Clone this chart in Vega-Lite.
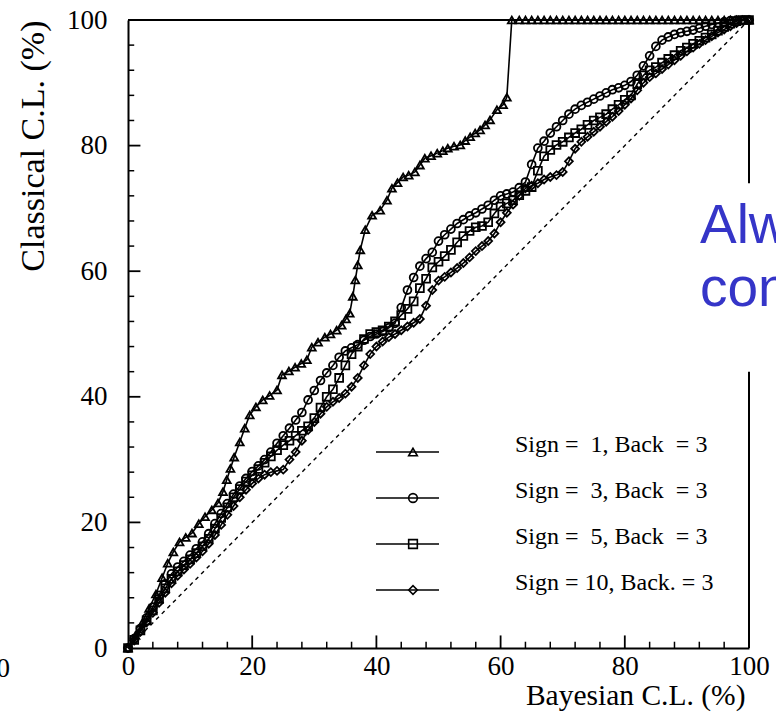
{
  "$schema": "https://vega.github.io/schema/vega-lite/v6.json",
  "width": 621,
  "height": 628,
  "autosize": {"type": "none"},
  "padding": {"left": 128, "top": 20, "right": 27, "bottom": 64},
  "background": "white",
  "config": {"view": {"stroke": null}},
  "datasets": {
    "curves": [
      {"sign":1,"bcl":0,"ccl":0},{"sign":1,"bcl":1.2,"ccl":2},{"sign":1,"bcl":2.3,"ccl":4},{"sign":1,"bcl":3.4,"ccl":6.3},{"sign":1,"bcl":4.5,"ccl":8.6},{"sign":1,"bcl":5.5,"ccl":11.2},{"sign":1,"bcl":6.4,"ccl":13.5},{"sign":1,"bcl":7.3,"ccl":15.3},{"sign":1,"bcl":8.3,"ccl":16.9},{"sign":1,"bcl":9.3,"ccl":17.6},{"sign":1,"bcl":10.3,"ccl":18.3},{"sign":1,"bcl":11.4,"ccl":19.8},{"sign":1,"bcl":12.4,"ccl":20.9},{"sign":1,"bcl":13.5,"ccl":22},{"sign":1,"bcl":14.5,"ccl":23.1},{"sign":1,"bcl":15.3,"ccl":24.9},{"sign":1,"bcl":15.9,"ccl":26.8},{"sign":1,"bcl":16.5,"ccl":28.6},{"sign":1,"bcl":17.1,"ccl":30.4},{"sign":1,"bcl":18,"ccl":32.8},{"sign":1,"bcl":18.8,"ccl":35},{"sign":1,"bcl":19.6,"ccl":37.1},{"sign":1,"bcl":20.6,"ccl":38.4},{"sign":1,"bcl":21.7,"ccl":39.5},{"sign":1,"bcl":22.8,"ccl":40.2},{"sign":1,"bcl":24,"ccl":41.1},{"sign":1,"bcl":24.8,"ccl":43.5},{"sign":1,"bcl":25.9,"ccl":44.1},{"sign":1,"bcl":26.9,"ccl":44.7},{"sign":1,"bcl":27.9,"ccl":45.3},{"sign":1,"bcl":28.8,"ccl":45.9},{"sign":1,"bcl":29.6,"ccl":47.9},{"sign":1,"bcl":30.6,"ccl":48.7},{"sign":1,"bcl":31.7,"ccl":49.5},{"sign":1,"bcl":32.6,"ccl":50},{"sign":1,"bcl":33.6,"ccl":50.6},{"sign":1,"bcl":34.4,"ccl":51.4},{"sign":1,"bcl":35.1,"ccl":52.4},{"sign":1,"bcl":35.7,"ccl":53.3},{"sign":1,"bcl":36.2,"ccl":56},{"sign":1,"bcl":36.6,"ccl":58.6},{"sign":1,"bcl":37,"ccl":61},{"sign":1,"bcl":37.4,"ccl":63.4},{"sign":1,"bcl":38.2,"ccl":66.6},{"sign":1,"bcl":39.3,"ccl":68.9},{"sign":1,"bcl":40.6,"ccl":69.7},{"sign":1,"bcl":41.7,"ccl":71.3},{"sign":1,"bcl":42.5,"ccl":73.2},{"sign":1,"bcl":43.4,"ccl":74.1},{"sign":1,"bcl":44.3,"ccl":75},{"sign":1,"bcl":45.2,"ccl":75.3},{"sign":1,"bcl":46.2,"ccl":75.8},{"sign":1,"bcl":47,"ccl":76.9},{"sign":1,"bcl":47.8,"ccl":78},{"sign":1,"bcl":48.8,"ccl":78.4},{"sign":1,"bcl":49.8,"ccl":78.8},{"sign":1,"bcl":50.7,"ccl":79.2},{"sign":1,"bcl":51.5,"ccl":79.6},{"sign":1,"bcl":52.5,"ccl":79.9},{"sign":1,"bcl":53.5,"ccl":80.1},{"sign":1,"bcl":54.3,"ccl":80.8},{"sign":1,"bcl":55.1,"ccl":81.4},{"sign":1,"bcl":55.9,"ccl":82},{"sign":1,"bcl":56.7,"ccl":82.5},{"sign":1,"bcl":57.5,"ccl":83.3},{"sign":1,"bcl":58.3,"ccl":84.1},{"sign":1,"bcl":59.4,"ccl":85.7},{"sign":1,"bcl":60.4,"ccl":86.5},{"sign":1,"bcl":61,"ccl":87.7},{"sign":1,"bcl":61.8,"ccl":100},{"sign":1,"bcl":63,"ccl":100},{"sign":1,"bcl":64,"ccl":100},{"sign":1,"bcl":65,"ccl":100},{"sign":1,"bcl":66,"ccl":100},{"sign":1,"bcl":67,"ccl":100},{"sign":1,"bcl":68,"ccl":100},{"sign":1,"bcl":69,"ccl":100},{"sign":1,"bcl":70,"ccl":100},{"sign":1,"bcl":71,"ccl":100},{"sign":1,"bcl":72,"ccl":100},{"sign":1,"bcl":73,"ccl":100},{"sign":1,"bcl":74,"ccl":100},{"sign":1,"bcl":75,"ccl":100},{"sign":1,"bcl":76,"ccl":100},{"sign":1,"bcl":77,"ccl":100},{"sign":1,"bcl":78,"ccl":100},{"sign":1,"bcl":79,"ccl":100},{"sign":1,"bcl":80,"ccl":100},{"sign":1,"bcl":81,"ccl":100},{"sign":1,"bcl":82,"ccl":100},{"sign":1,"bcl":83,"ccl":100},{"sign":1,"bcl":84,"ccl":100},{"sign":1,"bcl":85,"ccl":100},{"sign":1,"bcl":86,"ccl":100},{"sign":1,"bcl":87,"ccl":100},{"sign":1,"bcl":88,"ccl":100},{"sign":1,"bcl":89,"ccl":100},{"sign":1,"bcl":90,"ccl":100},{"sign":1,"bcl":91,"ccl":100},{"sign":1,"bcl":92,"ccl":100},{"sign":1,"bcl":93,"ccl":100},{"sign":1,"bcl":94,"ccl":100},{"sign":1,"bcl":95,"ccl":100},{"sign":1,"bcl":96,"ccl":100},{"sign":1,"bcl":97,"ccl":100},{"sign":1,"bcl":98,"ccl":100},{"sign":1,"bcl":99,"ccl":100},{"sign":1,"bcl":100,"ccl":100},
      {"sign":3,"bcl":0,"ccl":0},{"sign":3,"bcl":1,"ccl":1.5},{"sign":3,"bcl":2,"ccl":3.1},{"sign":3,"bcl":3,"ccl":4.8},{"sign":3,"bcl":4,"ccl":6.5},{"sign":3,"bcl":5,"ccl":8.4},{"sign":3,"bcl":6,"ccl":10.2},{"sign":3,"bcl":7,"ccl":11.8},{"sign":3,"bcl":8,"ccl":12.9},{"sign":3,"bcl":9,"ccl":13.8},{"sign":3,"bcl":10,"ccl":14.8},{"sign":3,"bcl":11,"ccl":15.8},{"sign":3,"bcl":12,"ccl":16.9},{"sign":3,"bcl":13,"ccl":18.2},{"sign":3,"bcl":14,"ccl":19.8},{"sign":3,"bcl":15,"ccl":21.4},{"sign":3,"bcl":16,"ccl":23},{"sign":3,"bcl":17,"ccl":24.5},{"sign":3,"bcl":18,"ccl":25.8},{"sign":3,"bcl":19,"ccl":27},{"sign":3,"bcl":20,"ccl":28.1},{"sign":3,"bcl":21,"ccl":29},{"sign":3,"bcl":22,"ccl":30},{"sign":3,"bcl":23,"ccl":31.2},{"sign":3,"bcl":24,"ccl":32.6},{"sign":3,"bcl":25,"ccl":33.8},{"sign":3,"bcl":26,"ccl":35},{"sign":3,"bcl":27,"ccl":36.3},{"sign":3,"bcl":28,"ccl":37.5},{"sign":3,"bcl":29,"ccl":39.5},{"sign":3,"bcl":30,"ccl":41},{"sign":3,"bcl":31,"ccl":42.6},{"sign":3,"bcl":32,"ccl":43.8},{"sign":3,"bcl":33,"ccl":45},{"sign":3,"bcl":34,"ccl":46.3},{"sign":3,"bcl":35,"ccl":47.3},{"sign":3,"bcl":36,"ccl":47.8},{"sign":3,"bcl":37,"ccl":48.3},{"sign":3,"bcl":38,"ccl":49},{"sign":3,"bcl":39,"ccl":49.6},{"sign":3,"bcl":40,"ccl":50},{"sign":3,"bcl":41,"ccl":50.4},{"sign":3,"bcl":42,"ccl":51},{"sign":3,"bcl":43,"ccl":51.7},{"sign":3,"bcl":44,"ccl":54.2},{"sign":3,"bcl":45,"ccl":57},{"sign":3,"bcl":46,"ccl":59},{"sign":3,"bcl":47,"ccl":60.8},{"sign":3,"bcl":48,"ccl":62},{"sign":3,"bcl":49,"ccl":63},{"sign":3,"bcl":50,"ccl":64.8},{"sign":3,"bcl":51,"ccl":65.8},{"sign":3,"bcl":52,"ccl":66.7},{"sign":3,"bcl":53,"ccl":67.6},{"sign":3,"bcl":54,"ccl":68.2},{"sign":3,"bcl":55,"ccl":68.8},{"sign":3,"bcl":56,"ccl":69.3},{"sign":3,"bcl":57,"ccl":69.9},{"sign":3,"bcl":58,"ccl":70.5},{"sign":3,"bcl":59,"ccl":71.3},{"sign":3,"bcl":60,"ccl":72},{"sign":3,"bcl":61,"ccl":72.3},{"sign":3,"bcl":62,"ccl":72.6},{"sign":3,"bcl":63,"ccl":73.3},{"sign":3,"bcl":64,"ccl":74.2},{"sign":3,"bcl":65,"ccl":77},{"sign":3,"bcl":66,"ccl":79.6},{"sign":3,"bcl":67,"ccl":80.7},{"sign":3,"bcl":68,"ccl":82},{"sign":3,"bcl":69,"ccl":83},{"sign":3,"bcl":70,"ccl":84},{"sign":3,"bcl":71,"ccl":85},{"sign":3,"bcl":72,"ccl":85.8},{"sign":3,"bcl":73,"ccl":86.4},{"sign":3,"bcl":74,"ccl":86.9},{"sign":3,"bcl":75,"ccl":87.4},{"sign":3,"bcl":76,"ccl":87.9},{"sign":3,"bcl":77,"ccl":88.4},{"sign":3,"bcl":78,"ccl":88.9},{"sign":3,"bcl":79,"ccl":89.2},{"sign":3,"bcl":80,"ccl":89.6},{"sign":3,"bcl":81,"ccl":90.2},{"sign":3,"bcl":82,"ccl":91.2},{"sign":3,"bcl":83,"ccl":92.7},{"sign":3,"bcl":84,"ccl":94.3},{"sign":3,"bcl":85,"ccl":95.8},{"sign":3,"bcl":86,"ccl":96.8},{"sign":3,"bcl":87,"ccl":97.3},{"sign":3,"bcl":88,"ccl":97.7},{"sign":3,"bcl":89,"ccl":98},{"sign":3,"bcl":90,"ccl":98.2},{"sign":3,"bcl":91,"ccl":98.4},{"sign":3,"bcl":92,"ccl":98.7},{"sign":3,"bcl":93,"ccl":99},{"sign":3,"bcl":94,"ccl":99.3},{"sign":3,"bcl":95,"ccl":99.5},{"sign":3,"bcl":96,"ccl":99.7},{"sign":3,"bcl":97,"ccl":99.9},{"sign":3,"bcl":98,"ccl":100},{"sign":3,"bcl":99,"ccl":100},{"sign":3,"bcl":100,"ccl":100},
      {"sign":5,"bcl":0,"ccl":0},{"sign":5,"bcl":1,"ccl":1.3},{"sign":5,"bcl":2,"ccl":2.8},{"sign":5,"bcl":3,"ccl":4.4},{"sign":5,"bcl":4,"ccl":6},{"sign":5,"bcl":5,"ccl":7.8},{"sign":5,"bcl":6,"ccl":9.5},{"sign":5,"bcl":7,"ccl":11},{"sign":5,"bcl":8,"ccl":12.2},{"sign":5,"bcl":9,"ccl":13.2},{"sign":5,"bcl":10,"ccl":14.1},{"sign":5,"bcl":11,"ccl":15.1},{"sign":5,"bcl":12,"ccl":16.2},{"sign":5,"bcl":13,"ccl":17.4},{"sign":5,"bcl":14,"ccl":19},{"sign":5,"bcl":15,"ccl":20.7},{"sign":5,"bcl":16,"ccl":22.4},{"sign":5,"bcl":17,"ccl":24},{"sign":5,"bcl":18,"ccl":25.3},{"sign":5,"bcl":19,"ccl":26.5},{"sign":5,"bcl":20,"ccl":27.5},{"sign":5,"bcl":21,"ccl":28.5},{"sign":5,"bcl":22,"ccl":29.5},{"sign":5,"bcl":23,"ccl":30.5},{"sign":5,"bcl":24,"ccl":31.5},{"sign":5,"bcl":25,"ccl":32.3},{"sign":5,"bcl":26,"ccl":33},{"sign":5,"bcl":27,"ccl":33.8},{"sign":5,"bcl":28,"ccl":34.6},{"sign":5,"bcl":29,"ccl":35.3},{"sign":5,"bcl":30,"ccl":36.6},{"sign":5,"bcl":31,"ccl":38.3},{"sign":5,"bcl":32,"ccl":40},{"sign":5,"bcl":33,"ccl":41.2},{"sign":5,"bcl":34,"ccl":43},{"sign":5,"bcl":35,"ccl":45},{"sign":5,"bcl":36,"ccl":46.8},{"sign":5,"bcl":37,"ccl":48},{"sign":5,"bcl":38,"ccl":49.2},{"sign":5,"bcl":39,"ccl":50},{"sign":5,"bcl":40,"ccl":50.3},{"sign":5,"bcl":41,"ccl":50.6},{"sign":5,"bcl":42,"ccl":51.2},{"sign":5,"bcl":43,"ccl":52},{"sign":5,"bcl":44,"ccl":53},{"sign":5,"bcl":45,"ccl":54},{"sign":5,"bcl":46,"ccl":55.2},{"sign":5,"bcl":47,"ccl":57.3},{"sign":5,"bcl":48,"ccl":58.8},{"sign":5,"bcl":49,"ccl":60.6},{"sign":5,"bcl":50,"ccl":61.5},{"sign":5,"bcl":51,"ccl":62.4},{"sign":5,"bcl":52,"ccl":63.4},{"sign":5,"bcl":53,"ccl":64.6},{"sign":5,"bcl":54,"ccl":65.6},{"sign":5,"bcl":55,"ccl":66.4},{"sign":5,"bcl":56,"ccl":67},{"sign":5,"bcl":57,"ccl":67.2},{"sign":5,"bcl":58,"ccl":67.8},{"sign":5,"bcl":59,"ccl":69.2},{"sign":5,"bcl":60,"ccl":70.3},{"sign":5,"bcl":61,"ccl":70.8},{"sign":5,"bcl":62,"ccl":71.3},{"sign":5,"bcl":63,"ccl":72.1},{"sign":5,"bcl":64,"ccl":72.8},{"sign":5,"bcl":65,"ccl":73.4},{"sign":5,"bcl":66,"ccl":76},{"sign":5,"bcl":67,"ccl":78.3},{"sign":5,"bcl":68,"ccl":79.3},{"sign":5,"bcl":69,"ccl":80.1},{"sign":5,"bcl":70,"ccl":80.6},{"sign":5,"bcl":71,"ccl":81.3},{"sign":5,"bcl":72,"ccl":82},{"sign":5,"bcl":73,"ccl":82.6},{"sign":5,"bcl":74,"ccl":83.3},{"sign":5,"bcl":75,"ccl":84},{"sign":5,"bcl":76,"ccl":84.5},{"sign":5,"bcl":77,"ccl":85},{"sign":5,"bcl":78,"ccl":85.8},{"sign":5,"bcl":79,"ccl":86.5},{"sign":5,"bcl":80,"ccl":87.3},{"sign":5,"bcl":81,"ccl":88},{"sign":5,"bcl":82,"ccl":89.8},{"sign":5,"bcl":83,"ccl":91.2},{"sign":5,"bcl":84,"ccl":92},{"sign":5,"bcl":85,"ccl":92.5},{"sign":5,"bcl":86,"ccl":93.2},{"sign":5,"bcl":87,"ccl":93.8},{"sign":5,"bcl":88,"ccl":94.4},{"sign":5,"bcl":89,"ccl":95.1},{"sign":5,"bcl":90,"ccl":95.6},{"sign":5,"bcl":91,"ccl":96.2},{"sign":5,"bcl":92,"ccl":96.7},{"sign":5,"bcl":93,"ccl":97.2},{"sign":5,"bcl":94,"ccl":97.7},{"sign":5,"bcl":95,"ccl":98.3},{"sign":5,"bcl":96,"ccl":98.9},{"sign":5,"bcl":97,"ccl":99.4},{"sign":5,"bcl":98,"ccl":99.8},{"sign":5,"bcl":99,"ccl":100},{"sign":5,"bcl":100,"ccl":100},
      {"sign":10,"bcl":0,"ccl":0},{"sign":10,"bcl":1,"ccl":1.2},{"sign":10,"bcl":2,"ccl":2.6},{"sign":10,"bcl":3,"ccl":4.1},{"sign":10,"bcl":4,"ccl":5.6},{"sign":10,"bcl":5,"ccl":7.2},{"sign":10,"bcl":6,"ccl":8.8},{"sign":10,"bcl":7,"ccl":10.3},{"sign":10,"bcl":8,"ccl":11.5},{"sign":10,"bcl":9,"ccl":12.5},{"sign":10,"bcl":10,"ccl":13.4},{"sign":10,"bcl":11,"ccl":14.4},{"sign":10,"bcl":12,"ccl":15.4},{"sign":10,"bcl":13,"ccl":16.6},{"sign":10,"bcl":14,"ccl":18},{"sign":10,"bcl":15,"ccl":19.6},{"sign":10,"bcl":16,"ccl":21.2},{"sign":10,"bcl":17,"ccl":22.6},{"sign":10,"bcl":18,"ccl":24},{"sign":10,"bcl":19,"ccl":25.2},{"sign":10,"bcl":20,"ccl":26.2},{"sign":10,"bcl":21,"ccl":27},{"sign":10,"bcl":22,"ccl":27.6},{"sign":10,"bcl":23,"ccl":28},{"sign":10,"bcl":24,"ccl":28.2},{"sign":10,"bcl":25,"ccl":28.4},{"sign":10,"bcl":26,"ccl":30},{"sign":10,"bcl":27,"ccl":31.2},{"sign":10,"bcl":28,"ccl":33},{"sign":10,"bcl":29,"ccl":34.7},{"sign":10,"bcl":30,"ccl":36},{"sign":10,"bcl":31,"ccl":37.3},{"sign":10,"bcl":32,"ccl":38.4},{"sign":10,"bcl":33,"ccl":39.2},{"sign":10,"bcl":34,"ccl":39.8},{"sign":10,"bcl":35,"ccl":40.5},{"sign":10,"bcl":36,"ccl":41.6},{"sign":10,"bcl":37,"ccl":43},{"sign":10,"bcl":38,"ccl":45},{"sign":10,"bcl":39,"ccl":46.8},{"sign":10,"bcl":40,"ccl":48},{"sign":10,"bcl":41,"ccl":48.8},{"sign":10,"bcl":42,"ccl":49.5},{"sign":10,"bcl":43,"ccl":50},{"sign":10,"bcl":44,"ccl":50.6},{"sign":10,"bcl":45,"ccl":51.2},{"sign":10,"bcl":46,"ccl":51.8},{"sign":10,"bcl":47,"ccl":52.4},{"sign":10,"bcl":48,"ccl":54.5},{"sign":10,"bcl":49,"ccl":57},{"sign":10,"bcl":50,"ccl":58.5},{"sign":10,"bcl":51,"ccl":59.1},{"sign":10,"bcl":52,"ccl":59.8},{"sign":10,"bcl":53,"ccl":60.5},{"sign":10,"bcl":54,"ccl":61.3},{"sign":10,"bcl":55,"ccl":62.2},{"sign":10,"bcl":56,"ccl":63.2},{"sign":10,"bcl":57,"ccl":64},{"sign":10,"bcl":58,"ccl":64.8},{"sign":10,"bcl":59,"ccl":66},{"sign":10,"bcl":60,"ccl":67.8},{"sign":10,"bcl":61,"ccl":69.3},{"sign":10,"bcl":62,"ccl":70.6},{"sign":10,"bcl":63,"ccl":72},{"sign":10,"bcl":64,"ccl":73.2},{"sign":10,"bcl":65,"ccl":73.6},{"sign":10,"bcl":66,"ccl":74},{"sign":10,"bcl":67,"ccl":74.6},{"sign":10,"bcl":68,"ccl":75},{"sign":10,"bcl":69,"ccl":75.3},{"sign":10,"bcl":70,"ccl":75.8},{"sign":10,"bcl":71,"ccl":77.5},{"sign":10,"bcl":72,"ccl":79.5},{"sign":10,"bcl":73,"ccl":80.6},{"sign":10,"bcl":74,"ccl":81.4},{"sign":10,"bcl":75,"ccl":82.2},{"sign":10,"bcl":76,"ccl":83},{"sign":10,"bcl":77,"ccl":83.8},{"sign":10,"bcl":78,"ccl":84.6},{"sign":10,"bcl":79,"ccl":85.5},{"sign":10,"bcl":80,"ccl":86.5},{"sign":10,"bcl":81,"ccl":87.5},{"sign":10,"bcl":82,"ccl":88.8},{"sign":10,"bcl":83,"ccl":90},{"sign":10,"bcl":84,"ccl":90.9},{"sign":10,"bcl":85,"ccl":91.5},{"sign":10,"bcl":86,"ccl":92.2},{"sign":10,"bcl":87,"ccl":92.9},{"sign":10,"bcl":88,"ccl":93.6},{"sign":10,"bcl":89,"ccl":94.3},{"sign":10,"bcl":90,"ccl":95},{"sign":10,"bcl":91,"ccl":95.6},{"sign":10,"bcl":92,"ccl":96.2},{"sign":10,"bcl":93,"ccl":96.8},{"sign":10,"bcl":94,"ccl":97.4},{"sign":10,"bcl":95,"ccl":98},{"sign":10,"bcl":96,"ccl":98.5},{"sign":10,"bcl":97,"ccl":99},{"sign":10,"bcl":98,"ccl":99.5},{"sign":10,"bcl":99,"ccl":99.9},{"sign":10,"bcl":100,"ccl":100}
    ],
    "diagonal": [{"bcl":0,"ccl":0},{"bcl":100,"ccl":100}],
    "frame": [
      {"bcl":0,"ccl":100,"bcl2":100,"ccl2":100},
      {"bcl":100,"ccl":0,"bcl2":100,"ccl2":44},
      {"bcl":100,"ccl":74,"bcl2":100,"ccl2":100}
    ],
    "minorTicks": [{"pos":4},{"pos":8},{"pos":12},{"pos":16},{"pos":24},{"pos":28},{"pos":32},{"pos":36},{"pos":44},{"pos":48},{"pos":52},{"pos":56},{"pos":64},{"pos":68},{"pos":72},{"pos":76},{"pos":84},{"pos":88},{"pos":92},{"pos":96}],
    "majorTicks": [{"pos":20},{"pos":40},{"pos":60},{"pos":80}],
    "slide": [
      {"bcl":92.1,"ccl":64.5,"note":"Alw"},
      {"bcl":92.1,"ccl":54.5,"note":"con"}
    ],
    "edge": [
      {"bcl":-19,"ccl":-4.6,"note":"100"}
    ]
  },
  "layer": [
    {
      "data": {"name": "diagonal"},
      "mark": {"type": "line", "color": "black", "strokeWidth": 1.4, "strokeDash": [4, 4]},
      "encoding": {
        "x": {
          "field": "bcl", "type": "quantitative",
          "scale": {"domain": [0, 100], "nice": false, "zero": false},
          "axis": {
            "orient": "bottom",
            "values": [0, 20, 40, 60, 80, 100],
            "ticks": false,
            "domainColor": "black", "domainWidth": 2,
            "labelFont": "Liberation Serif", "labelFontSize": 27, "labelColor": "black",
            "labelPadding": 5, "labelFlush": false, "labelOverlap": false,
            "grid": false,
            "title": "Bayesian C.L. (%)",
            "titleFont": "Liberation Serif", "titleFontSize": 29.5, "titleFontWeight": "normal", "titleColor": "black",
            "titleX": 617, "titleY": 56, "titleAlign": "right", "titleBaseline": "alphabetic", "titleAnchor": null
          }
        },
        "y": {
          "field": "ccl", "type": "quantitative",
          "scale": {"domain": [0, 100], "nice": false, "zero": false},
          "axis": {
            "orient": "left",
            "values": [0, 20, 40, 60, 80, 100],
            "ticks": false,
            "domainColor": "black", "domainWidth": 2,
            "labelFont": "Liberation Serif", "labelFontSize": 27, "labelColor": "black",
            "labelPadding": 21, "labelFlush": false, "labelOverlap": false,
            "grid": false,
            "title": "Classical C.L. (%)",
            "titleFont": "Liberation Serif", "titleFontSize": 34, "titleFontWeight": "normal", "titleColor": "black",
            "titleX": -95, "titleY": 0, "titleAngle": -90, "titleAlign": "right", "titleBaseline": "middle", "titleAnchor": null
          }
        }
      }
    },
    {
      "data": {"name": "frame"},
      "mark": {"type": "rule", "color": "black", "strokeWidth": 2},
      "encoding": {
        "x": {"field": "bcl", "type": "quantitative"},
        "y": {"field": "ccl", "type": "quantitative"},
        "x2": {"field": "bcl2"},
        "y2": {"field": "ccl2"}
      }
    },
    {
      "data": {"name": "minorTicks"},
      "mark": {"type": "rule", "color": "black", "strokeWidth": 1.5},
      "encoding": {
        "x": {"field": "pos", "type": "quantitative"},
        "y": {"datum": 0, "type": "quantitative"},
        "y2": {"datum": 1}
      }
    },
    {
      "data": {"name": "majorTicks"},
      "mark": {"type": "rule", "color": "black", "strokeWidth": 1.8},
      "encoding": {
        "x": {"field": "pos", "type": "quantitative"},
        "y": {"datum": 0, "type": "quantitative"},
        "y2": {"datum": 2}
      }
    },
    {
      "data": {"name": "minorTicks"},
      "mark": {"type": "rule", "color": "black", "strokeWidth": 1.5},
      "encoding": {
        "y": {"field": "pos", "type": "quantitative"},
        "x": {"datum": 0, "type": "quantitative"},
        "x2": {"datum": 1}
      }
    },
    {
      "data": {"name": "majorTicks"},
      "mark": {"type": "rule", "color": "black", "strokeWidth": 1.8},
      "encoding": {
        "y": {"field": "pos", "type": "quantitative"},
        "x": {"datum": 0, "type": "quantitative"},
        "x2": {"datum": 2}
      }
    },
    {
      "data": {"name": "curves"},
      "mark": {"type": "line", "strokeWidth": 1.6},
      "encoding": {
        "x": {"field": "bcl", "type": "quantitative"},
        "y": {"field": "ccl", "type": "quantitative"},
        "color": {
          "field": "sign", "type": "nominal",
          "scale": {"domain": [1, 3, 5, 10], "range": ["black", "black", "black", "black"]},
          "legend": {
            "orient": "none", "legendX": 247, "legendY": 421, "direction": "vertical",
            "title": null, "padding": 0,
            "symbolType": "stroke", "symbolSize": 3969, "symbolStrokeWidth": 1.5, "symbolStrokeColor": "black",
            "clipHeight": 22, "rowPadding": 16,
            "labelFont": "Liberation Serif", "labelFontSize": 24, "labelColor": "black",
            "labelOffset": 75, "labelBaseline": "alphabetic", "labelLimit": 400,
            "labelExpr": "datum.value == 10 ? 'Sign = 10, Back. = 3' : 'Sign = \u00a0' + datum.label + ', Back \u00a0= 3'"
          }
        }
      }
    },
    {
      "data": {"name": "curves"},
      "mark": {"type": "point", "filled": false, "size": 62, "strokeWidth": 1.8, "color": "black", "opacity": 1},
      "encoding": {
        "x": {"field": "bcl", "type": "quantitative"},
        "y": {"field": "ccl", "type": "quantitative"},
        "shape": {
          "field": "sign", "type": "nominal", "sort": [1, 3, 5, 10],
          "scale": {"range": ["triangle-up", "circle", "square", "diamond"]},
          "legend": {
            "orient": "none", "legendX": 273, "legendY": 421, "direction": "vertical",
            "title": null, "padding": 0,
            "symbolSize": 75, "symbolStrokeWidth": 1.6, "symbolStrokeColor": "black", "symbolFillColor": "white",
            "clipHeight": 22, "rowPadding": 16,
            "labelFont": "Liberation Serif", "labelFontSize": 24, "labelColor": "black",
            "labelOffset": 75, "labelBaseline": "alphabetic", "labelLimit": 400,
            "labelExpr": "' '"
          }
        }
      }
    },
    {
      "data": {"name": "slide"},
      "mark": {"type": "text", "align": "left", "baseline": "alphabetic", "font": "Liberation Sans", "fontSize": 55, "color": "#3535c8"},
      "encoding": {
        "x": {"field": "bcl", "type": "quantitative"},
        "y": {"field": "ccl", "type": "quantitative"},
        "text": {"field": "note"}
      }
    },
    {
      "data": {"name": "edge"},
      "mark": {"type": "text", "align": "right", "baseline": "alphabetic", "font": "Liberation Serif", "fontSize": 27, "color": "black"},
      "encoding": {
        "x": {"field": "bcl", "type": "quantitative"},
        "y": {"field": "ccl", "type": "quantitative"},
        "text": {"field": "note"}
      }
    }
  ]
}
